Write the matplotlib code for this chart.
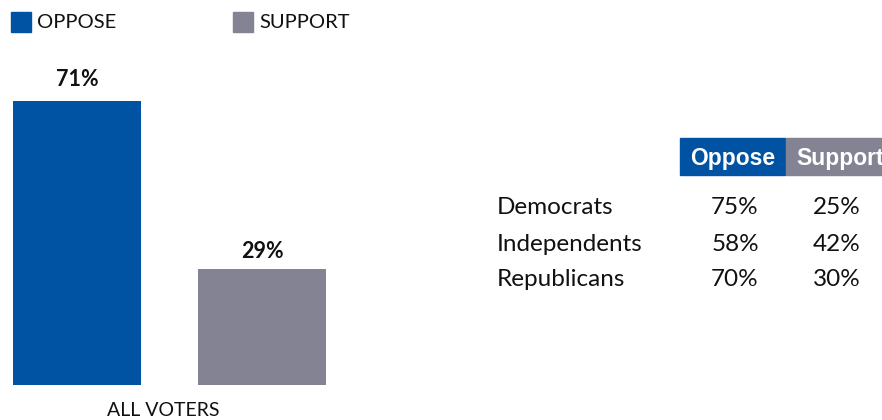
import matplotlib
matplotlib.use("Agg")
import matplotlib.pyplot as plt
from matplotlib.patches import Rectangle

# ---- data ----
bar_labels = ["OPPOSE", "SUPPORT"]
bar_values = [71, 29]
group_label = "ALL VOTERS"
table_rows = ["Democrats", "Independents", "Republicans"]
table_oppose = [75, 58, 70]
table_support = [25, 42, 30]
table_headers = ["Oppose", "Support"]

BLUE = "#0052A2"
GRAY = "#848394"
FONT = "Lato"

W, H = 882, 420
fig = plt.figure(figsize=(W / 100, H / 100), dpi=100)

def fx(px):
    return px / W

def fy(py):
    return 1 - py / H

# ---- bar chart ----
ax = fig.add_axes([0, fy(385), fx(340), 340 / H])
xs = [0, 1]
bars = ax.bar(xs, bar_values, width=0.692, color=[BLUE, GRAY])
ax.set_xlim(-77 / 185, (340 - 77) / 185)
ax.set_ylim(0, 85)
ax.axis("off")
label_offsets = [8, 5]
for x, v, off in zip(xs, bar_values, label_offsets):
    ax.annotate(f"{v}%", (x, v), xytext=(0, off), textcoords="offset points",
                ha="center", va="bottom", fontsize=15.5, fontweight="bold",
                family=FONT, color="#111111")
fig.text(fx(163), fy(411), group_label, ha="center", va="center",
         fontsize=14, family=FONT, color="#111111")

# ---- legend ----
legend_x = [11, 233]
for lx, lab, col in zip(legend_x, bar_labels, [BLUE, GRAY]):
    fig.patches.append(Rectangle((fx(lx), fy(32)), fx(20), 20 / H,
                                 transform=fig.transFigure, color=col))
    fig.text(fx(lx + 26), fy(23), lab, ha="left", va="center",
             fontsize=14.5, family=FONT, color="#111111")

# ---- table ----
hdr_x = [680, 786]
hdr_w = [105, 100]
for hx, hw, lab, col in zip(hdr_x, hdr_w, table_headers, [BLUE, GRAY]):
    fig.patches.append(Rectangle((fx(hx), fy(175)), fx(hw), 37 / H,
                                 transform=fig.transFigure, color=col))
    fig.text(fx(hx + 10), fy(158), lab, ha="left", va="center",
             fontsize=16.5, fontweight="bold", family="Liberation Sans",
             color="white")

row_y = [207, 244, 280]
for ry, name, o, s in zip(row_y, table_rows, table_oppose, table_support):
    fig.text(fx(497), fy(ry), name, ha="left", va="center",
             fontsize=17.5, family=FONT, color="#111111")
    fig.text(fx(735), fy(ry), f"{o}%", ha="center", va="center",
             fontsize=17.5, family=FONT, color="#111111")
    fig.text(fx(837), fy(ry), f"{s}%", ha="center", va="center",
             fontsize=17.5, family=FONT, color="#111111")

fig.savefig("out.png", dpi=100, facecolor="white")
